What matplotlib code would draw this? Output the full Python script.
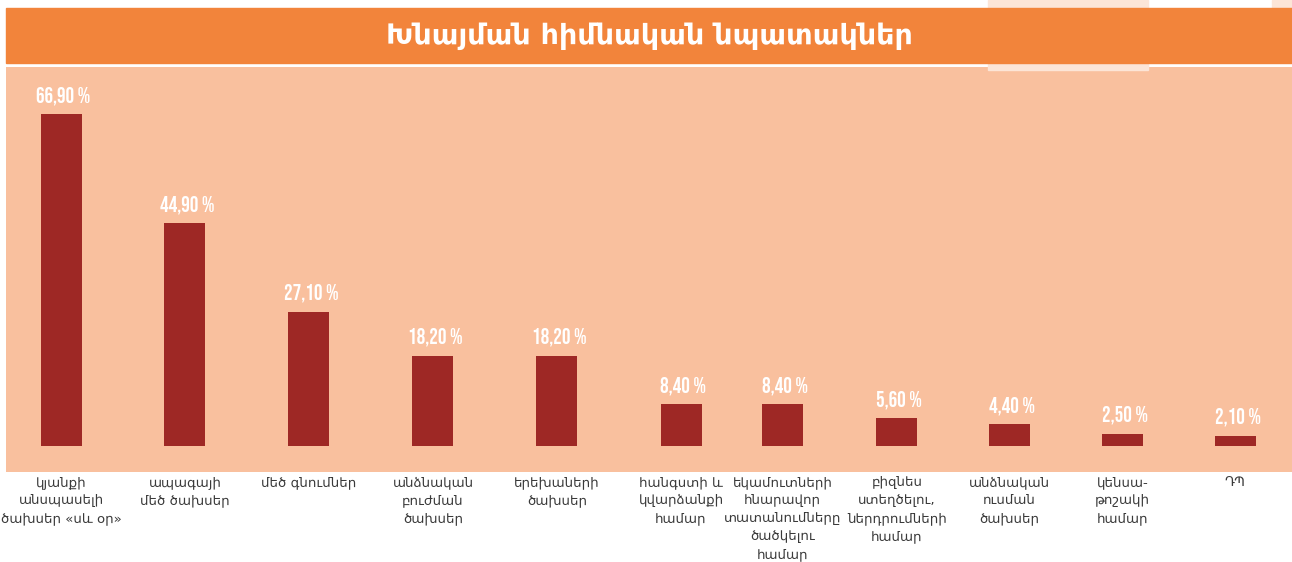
import matplotlib.pyplot as plt
from matplotlib.patches import Rectangle

# Տվյալներ
categories = [
    "կյանքի\nանսպասելի\nծախսեր «սև օր»",
    "ապագայի\nմեծ ծախսեր",
    "մեծ գնումներ",
    "անձնական\nբուժման\nծախսեր",
    "երեխաների\nծախսեր",
    "հանգստի և\nկվարձանքի\nհամար",
    "եկամուտների\nհնարավոր\nտատանումները\nծածկելու\nհամար",
    "բիզնես\nստեղծելու,\nներդրումների\nհամար",
    "անձնական\nուսման\nծախսեր",
    "կենսա-\nթոշակի\nհամար",
    "ԴՊ",
]
values = [66.9, 44.9, 27.1, 18.2, 18.2, 8.4, 8.4, 5.6, 4.4, 2.5, 2.1]
title = "Խնայման հիմնական նպատակներ"

# category slot positions (in slot units, the original is not evenly spaced)
slots = [0, 1, 2, 3, 4, 5, 5.82, 6.74, 7.65, 8.56, 9.47]

arm_fonts = ["DejaVu Sans"]
num_fonts = ["Bebas Neue", "Oswald", "Barlow Condensed", "DejaVu Sans"]

W, H = 1292, 562
fig = plt.figure(figsize=(W / 100, H / 100), dpi=100)
fig.patch.set_facecolor("white")

# faint watermark shapes at top right
fig.patches.append(Rectangle((988 / W, 1 - 70 / H), 160 / W, 70 / H,
                             transform=fig.transFigure, color="#fce5d7",
                             zorder=0))
fig.patches.append(Rectangle((1272 / W, 1 - 20 / H), 20 / W, 20 / H,
                             transform=fig.transFigure, color="#fce5d7",
                             zorder=0))

# title band
fig.patches.append(Rectangle((6 / W, 1 - 63 / H), 1286 / W, 55 / H,
                             transform=fig.transFigure, color="#f2843b",
                             zorder=1))
fig.text(0.5 + 3 / W, 1 - 36 / H, title, color="white", fontsize=20.5,
         fontweight="bold", family=arm_fonts, ha="center", va="center",
         zorder=2)

# panel
left, top, bottom, right = 6, 67, 472, 1292
ax = fig.add_axes([left / W, 1 - bottom / H, (right - left) / W,
                   (bottom - top) / H])
ax.set_facecolor("#f9c09e")
for s in ax.spines.values():
    s.set_visible(False)

pxu = 4.96      # px per percent
step = 124      # px per slot
base = 446
x0 = 61
ax.set_ylim(-(bottom - base) / pxu, (base - top) / pxu)
ax.set_xlim(-(x0 - left) / step, (right - x0) / step)

ax.bar(slots, values, width=41 / step, color="#9e2825", zorder=3)
for x, v in zip(slots, values):
    ax.text(x + 0.02, v + 1.9, f"{v:.2f}".replace(".", ",") + " %",
            ha="center", va="bottom", color="white", fontsize=15.5,
            fontweight="bold", family=num_fonts)

ax.set_yticks([])
ax.set_xticks(slots)
ax.set_xticklabels(categories, fontsize=9.6, color="#3a3a3a",
                   linespacing=1.5, family=arm_fonts)
ax.tick_params(axis="x", length=0, pad=3)

fig.savefig("out.png", dpi=100)
